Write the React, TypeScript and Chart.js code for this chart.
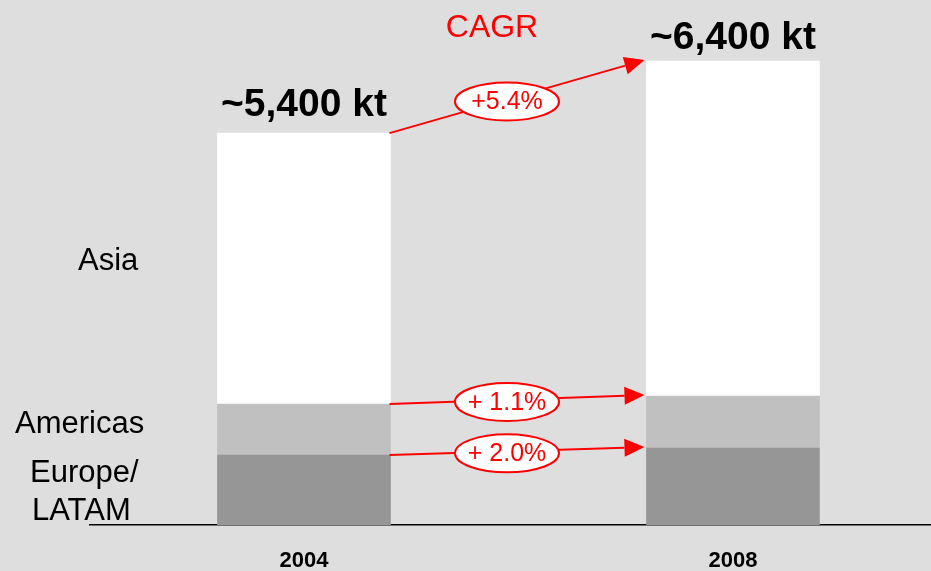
import React, { useEffect, useRef } from 'react';
import { Chart, registerables } from 'chart.js';

Chart.register(...registerables);

const years = ['2004', '2008'];
const europeLatam = [964, 1061];
const americas = [703, 716];
const asia = [3733, 4615];
const totalLabels = ['~5,400 kt', '~6,400 kt'];
// CAGR per dataset (Europe/LATAM, Americas, Asia)
const cagrLabels = ['+ 2.0%', '+ 1.1%', '+5.4%'];
const cagrTitle = 'CAGR';
const regionLabels = ['Asia', 'Americas', 'Europe/', 'LATAM'];

const BG = '#dedede';
const RED = '#ff0000';
const FONT = '"Liberation Sans", Arial, Helvetica, sans-serif';

const annotPlugin = {
  id: 'annot',
  beforeDraw(chart: any) {
    const ctx = chart.ctx;
    ctx.save();
    ctx.fillStyle = BG;
    ctx.fillRect(0, 0, chart.width, chart.height);
    ctx.restore();
  },
  afterDatasetsDraw(chart: any) {
    const ctx = chart.ctx as CanvasRenderingContext2D;
    const metas = [0, 1, 2].map((i) => chart.getDatasetMeta(i).data);
    ctx.save();

    // totals above bars
    ctx.fillStyle = '#000';
    ctx.font = `bold 39px ${FONT}`;
    ctx.textAlign = 'center';
    ctx.textBaseline = 'alphabetic';
    const tops = metas[2];
    ctx.fillText(totalLabels[0], tops[0].x, tops[0].y - 17);
    ctx.fillText(totalLabels[1], tops[1].x, tops[1].y - 12);

    // CAGR title
    ctx.fillStyle = RED;
    ctx.font = `32px ${FONT}`;
    ctx.fillText(cagrTitle, 492, 37);

    // region labels
    ctx.fillStyle = '#000';
    ctx.font = `31px ${FONT}`;
    ctx.textAlign = 'left';
    ctx.fillText(regionLabels[0], 78, 270);
    ctx.fillText(regionLabels[1], 15, 433);
    ctx.fillText(regionLabels[2], 30, 482);
    ctx.fillText(regionLabels[3], 32, 520);

    // arrows with ellipses
    for (let i = 0; i < 3; i++) {
      const a = metas[i][0];
      const b = metas[i][1];
      const x1 = a.x + a.width / 2 - 1;
      const y1 = a.y;
      const x2 = b.x - b.width / 2 - 2;
      const y2 = b.y - 1;
      const ang = Math.atan2(y2 - y1, x2 - x1);
      const headLen = 20;
      const headHalf = 9;
      const bx = x2 - headLen * Math.cos(ang);
      const by = y2 - headLen * Math.sin(ang);
      ctx.strokeStyle = RED;
      ctx.fillStyle = RED;
      ctx.lineWidth = 2;
      ctx.beginPath();
      ctx.moveTo(x1, y1);
      ctx.lineTo(bx, by);
      ctx.stroke();
      ctx.beginPath();
      ctx.moveTo(x2, y2);
      ctx.lineTo(bx + headHalf * Math.sin(ang), by - headHalf * Math.cos(ang));
      ctx.lineTo(bx - headHalf * Math.sin(ang), by + headHalf * Math.cos(ang));
      ctx.closePath();
      ctx.fill();

      const cx = 507;
      const t = (cx - x1) / (x2 - x1);
      const cy = y1 + t * (y2 - y1) + 2;
      ctx.beginPath();
      ctx.ellipse(cx, cy, 52, 19, 0, 0, Math.PI * 2);
      ctx.fillStyle = '#fff';
      ctx.fill();
      ctx.lineWidth = 2;
      ctx.strokeStyle = RED;
      ctx.stroke();
      ctx.fillStyle = RED;
      ctx.font = `25px ${FONT}`;
      ctx.textAlign = 'center';
      ctx.textBaseline = 'middle';
      ctx.fillText(cagrLabels[i], cx, cy + 1);
      ctx.textBaseline = 'alphabetic';
    }
    ctx.restore();
  },
};

export default function App() {
  const ref = useRef<HTMLCanvasElement>(null);
  useEffect(() => {
    document.body.style.margin = '0';
    document.body.style.background = BG;
    const toPts = (arr: number[]) => arr.map((v, i) => ({ x: i, y: v }));
    const chart = new Chart(ref.current as HTMLCanvasElement, {
      type: 'bar',
      data: {
        datasets: [
          { label: 'Europe/LATAM', data: toPts(europeLatam) as any, backgroundColor: '#969696', borderWidth: 0, barThickness: 173 },
          { label: 'Americas', data: toPts(americas) as any, backgroundColor: '#c0c0c0', borderWidth: 0, barThickness: 173 },
          { label: 'Asia', data: toPts(asia) as any, backgroundColor: '#ffffff', borderWidth: 0, barThickness: 173 },
        ],
      },
      options: {
        responsive: false,
        devicePixelRatio: 1,
        animation: false,
        layout: { padding: { top: 17, left: 90, right: 0, bottom: 0 } },
        plugins: { legend: { display: false }, tooltip: { enabled: false } },
        scales: {
          x: {
            type: 'linear',
            min: -0.4988,
            max: 1.4616,
            offset: false,
            stacked: true,
            grid: { display: false, drawTicks: false, offset: false },
            border: { display: true, color: '#000', width: 1.5 },
            ticks: {
              autoSkip: false,
              padding: 23,
              color: '#000',
              font: { family: FONT, size: 22, weight: 'bold' },
              callback: (v: any) => years[Number(v)] ?? '',
            },
            afterBuildTicks: (s: any) => {
              s.ticks = years.map((_, i) => ({ value: i }));
            },
            afterFit: (s: any) => {
              s.height = 46;
            },
          },
          y: { display: false, stacked: true, min: 0, max: 7000 },
        },
      },
      plugins: [annotPlugin],
    } as any);
    return () => chart.destroy();
  }, []);
  return (
    <div style={{ width: 931, height: 571 }}>
      <canvas ref={ref} width={931} height={571} style={{ display: 'block' }} />
    </div>
  );
}
